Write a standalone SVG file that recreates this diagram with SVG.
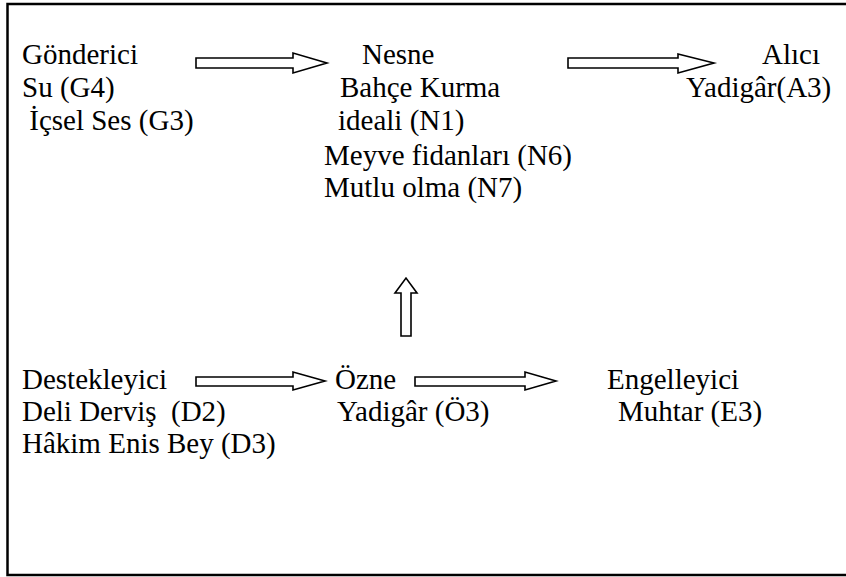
<svg xmlns="http://www.w3.org/2000/svg" width="846" height="577" viewBox="0 0 846 577">
<style>
text{font-family:"Liberation Serif","Times New Roman",serif;font-size:29px;fill:#000}
.arr{fill:#fff;stroke:#000;stroke-width:1.6;stroke-linejoin:miter}
</style>
<rect x="0" y="0" width="846" height="577" fill="#fff"/>
<rect x="7.5" y="4" width="850" height="571" fill="none" stroke="#000" stroke-width="2.5"/>
<g id="gonderici">
<text x="22" y="64">Gönderici</text>
<text x="22" y="97">Su (G4)</text>
<text x="22" y="130" xml:space="preserve"> İçsel Ses (G3)</text>
</g>
<g id="nesne">
<text x="362" y="64">Nesne</text>
<text x="340" y="97">Bahçe Kurma</text>
<text x="338" y="130">ideali (N1)</text>
<text x="324" y="165">Meyve fidanları (N6)</text>
<text x="324" y="197">Mutlu olma (N7)</text>
</g>
<g id="alici">
<text x="762" y="64">Alıcı</text>
<text x="686" y="97">Yadigâr(A3)</text>
</g>
<g id="destekleyici">
<text x="22" y="389">Destekleyici</text>
<text x="22" y="421" xml:space="preserve">Deli Derviş  (D2)</text>
<text x="22" y="453">Hâkim Enis Bey (D3)</text>
</g>
<g id="ozne">
<text x="335" y="389">Özne</text>
<text x="337" y="421">Yadigâr (Ö3)</text>
</g>
<g id="engelleyici">
<text x="607" y="389">Engelleyici</text>
<text x="618" y="421">Muhtar (E3)</text>
</g>
<g id="connectors">
<polygon class="arr" points="196,58 293,58 293,53 327,63 293,73 293,68 196,68"/>
<polygon class="arr" points="568,58 678,58 678,54 714,63 678,73 678,68 568,68"/>
<polygon class="arr" points="401,336 401,293 395,293 406,278 417,293 411,293 411,336"/>
<polygon class="arr" points="196,377 293,377 293,372 325,381 293,390 293,386 196,386"/>
<polygon class="arr" points="415,377 525,377 525,372 556,381 525,390 525,386 415,386"/>
</g>
</svg>
